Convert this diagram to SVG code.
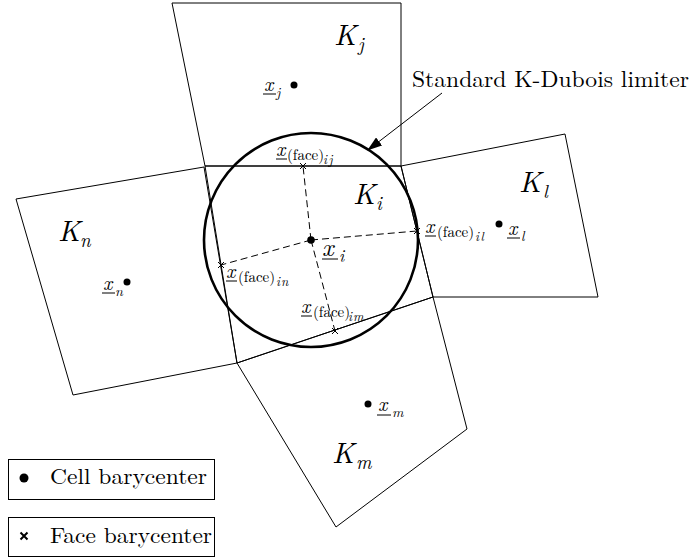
<svg xmlns="http://www.w3.org/2000/svg" width="694" height="558" viewBox="0 0 694 558" font-family="Latin Modern Roman, CMU Serif, Liberation Serif, serif">
<style>
.cell{fill:none;stroke:#000;stroke-width:1}
.m{font-style:italic;fill:#000}
.r{font-style:normal;fill:#000}
.ul{stroke:#000;stroke-width:1}
.dash{stroke:#000;stroke-width:1;stroke-dasharray:7,4;fill:none}
.fx{stroke:#000;stroke-width:1}
.dot{fill:#000}
</style>
<defs>
<marker id="ah" markerWidth="15" markerHeight="10" refX="14" refY="5" orient="auto" markerUnits="userSpaceOnUse">
<path d="M0,0 L15,5 L0,10 Z" fill="#000"/>
</marker>
</defs>
<rect width="694" height="558" fill="#fff"/>
<g id="Kj" font-family="Latin Modern Roman, CMU Serif, Liberation Serif, serif">
<polygon class="cell" points="172,3 401,3 401,166 205,166"/>
<text class="m" x="334" y="45" font-size="29">K</text><text class="m" x="358" y="51" font-size="19">j</text>
<circle class="dot" cx="294" cy="85" r="3.5"/>
<text class="m" x="264" y="91" font-size="20">x</text><line class="ul" x1="263" y1="94" x2="276" y2="94"/><text class="m" x="276" y="97" font-size="14">j</text>
</g>
<g id="Kn" font-family="Latin Modern Roman, CMU Serif, Liberation Serif, serif">
<polygon class="cell" points="16,199 204,167 237,363 73,395"/>
<text class="m" x="58" y="241" font-size="29">K</text><text class="m" x="80" y="247" font-size="19">n</text>
<circle class="dot" cx="127" cy="282" r="3.5"/>
<text class="m" x="103" y="290" font-size="20">x</text><line class="ul" x1="102" y1="293" x2="115" y2="293"/><text class="m" x="115" y="296" font-size="14">n</text>
</g>
<g id="Kl" font-family="Latin Modern Roman, CMU Serif, Liberation Serif, serif">
<polygon class="cell" points="401,166 565,134 598,297 433,297"/>
<text class="m" x="519" y="192" font-size="29">K</text><text class="m" x="543" y="198" font-size="19">l</text>
<circle class="dot" cx="499" cy="224" r="3.5"/>
<text class="m" x="508" y="235" font-size="20">x</text><line class="ul" x1="507" y1="238" x2="520" y2="238"/><text class="m" x="521" y="241" font-size="14">l</text>
</g>
<g id="Km" font-family="Latin Modern Roman, CMU Serif, Liberation Serif, serif">
<polygon class="cell" points="237,363 433,297 467,429 336,527"/>
<text class="m" x="332" y="463" font-size="29">K</text><text class="m" x="356" y="469" font-size="19">m</text>
<circle class="dot" cx="368" cy="404" r="3.5"/>
<text class="m" x="378" y="411" font-size="20">x</text><line class="ul" x1="377" y1="415" x2="391" y2="415"/><text class="m" x="392" y="417" font-size="14">m</text>
</g>
<g id="Ki" font-family="Latin Modern Roman, CMU Serif, Liberation Serif, serif">
<polygon class="cell" points="205,166 401,166 433,297 237,363"/>
<text class="m" x="353" y="204" font-size="29">K</text><text class="m" x="376" y="210" font-size="19">i</text>
</g>
<g id="limiter" font-family="Latin Modern Roman, CMU Serif, Liberation Serif, serif">
<circle cx="311" cy="240" r="107" fill="none" stroke="#000" stroke-width="2.6"/>
<text class="r" x="412" y="87" font-size="23" textLength="277" lengthAdjust="spacingAndGlyphs">Standard K-Dubois limiter</text>
</g>
<g id="connectors">
<line x1="442" y1="93" x2="368" y2="150" stroke="#000" stroke-width="1" marker-end="url(#ah)"/>
<line class="dash" x1="311" y1="240" x2="303" y2="166"/>
<line class="dash" x1="311" y1="240" x2="417" y2="231"/>
<line class="dash" x1="311" y1="240" x2="221" y2="265"/>
<line class="dash" x1="311" y1="240" x2="335" y2="331"/>
</g>
<g id="xi" font-family="Latin Modern Roman, CMU Serif, Liberation Serif, serif">
<circle class="dot" cx="311" cy="240" r="3.8"/>
<text class="m" x="322" y="256" font-size="25">x</text><line class="ul" x1="322" y1="259" x2="338" y2="259"/><text class="m" x="339" y="262" font-size="17">i</text>
</g>
<g id="face-ij" font-family="Latin Modern Roman, CMU Serif, Liberation Serif, serif">
<path class="fx" d="M300,163 L306,169 M306,163 L300,169"/>
<text class="m" x="276" y="156" font-size="20">x</text><line class="ul" x1="276" y1="159" x2="287" y2="159"/>
<text class="r" x="287" y="160" font-size="15">(face)</text><text class="m" x="323" y="164" font-size="13" letter-spacing="1.5">ij</text>
</g>
<g id="face-il" font-family="Latin Modern Roman, CMU Serif, Liberation Serif, serif">
<path class="fx" d="M414,228 L420,234 M420,228 L414,234"/>
<text class="m" x="425" y="233" font-size="20">x</text><line class="ul" x1="425" y1="236" x2="436" y2="236"/>
<text class="r" x="437" y="237" font-size="15">(face)</text><text class="m" x="475" y="241" font-size="13" letter-spacing="1.5">il</text>
</g>
<g id="face-in" font-family="Latin Modern Roman, CMU Serif, Liberation Serif, serif">
<path class="fx" d="M218,262 L224,268 M224,262 L218,268"/>
<text class="m" x="226" y="278" font-size="20">x</text><line class="ul" x1="226" y1="281" x2="237" y2="281"/>
<text class="r" x="238" y="282" font-size="15">(face)</text><text class="m" x="276" y="286" font-size="13" letter-spacing="1">in</text>
</g>
<g id="face-im" font-family="Latin Modern Roman, CMU Serif, Liberation Serif, serif">
<path class="fx" d="M332,328 L338,334 M338,328 L332,334"/>
<text class="m" x="301" y="313" font-size="20">x</text><line class="ul" x1="301" y1="316" x2="312" y2="316"/>
<text class="r" x="313" y="317" font-size="15">(face)</text><text class="m" x="348" y="321" font-size="13" letter-spacing="1">im</text>
</g>
<g id="legend-cell" font-family="Latin Modern Roman, CMU Serif, Liberation Serif, serif">
<rect x="8.5" y="459.5" width="206" height="40" fill="none" stroke="#000" stroke-width="1"/>
<circle class="dot" cx="24" cy="478" r="4.5"/>
<text class="r" x="50" y="484" font-size="22" textLength="157" lengthAdjust="spacingAndGlyphs">Cell barycenter</text>
</g>
<g id="legend-face" font-family="Latin Modern Roman, CMU Serif, Liberation Serif, serif">
<rect x="8.5" y="517.5" width="206" height="39" fill="none" stroke="#000" stroke-width="1"/>
<path d="M20.5,532.5 L27.5,539.5 M27.5,532.5 L20.5,539.5" stroke="#000" stroke-width="2"/>
<text class="r" x="50" y="543" font-size="22" textLength="162" lengthAdjust="spacingAndGlyphs">Face barycenter</text>
</g>
</svg>
